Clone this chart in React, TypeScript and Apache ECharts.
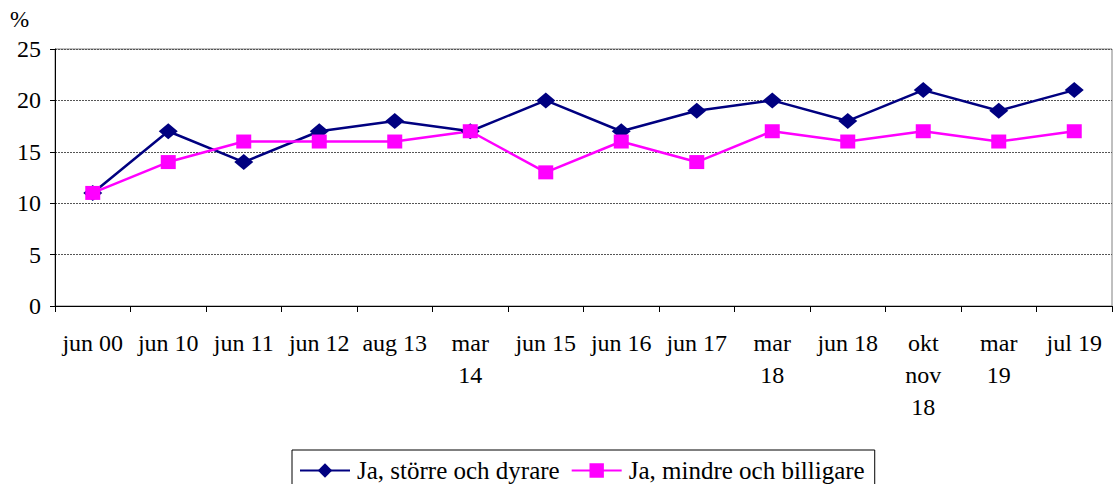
import React, { useEffect, useRef } from "react";
import * as echarts from "echarts";

const categories = [
  "jun 00", "jun 10", "jun 11", "jun 12", "aug 13", "mar\n14", "jun 15",
  "jun 16", "jun 17", "mar\n18", "jun 18", "okt\nnov\n18", "mar\n19", "jul 19",
];
const seriesNames = ["Ja, större och dyrare", "Ja, mindre och billigare"];
const storreValues = [11, 17, 14, 17, 18, 17, 20, 17, 19, 20, 18, 21, 19, 21];
const mindreValues = [11, 14, 16, 16, 16, 17, 13, 16, 14, 17, 16, 17, 16, 17];
const yTicks = [0, 5, 10, 15, 20, 25];

const FONT = "Liberation Serif";

export default function App() {
  const ref = useRef<HTMLDivElement>(null);
  useEffect(() => {
    if (!ref.current) return;
    const chart = echarts.init(ref.current, undefined, { renderer: "svg" });
    chart.setOption({
      animation: false,
      backgroundColor: "#ffffff",
      textStyle: { fontFamily: FONT },
      grid: {
        left: 55, right: 1, top: 49, bottom: 178,
        show: true, borderColor: "#808080", borderWidth: 1,
      },
      graphic: [
        {
          type: "text", left: 10, top: 8,
          style: { text: "%", fontFamily: FONT, fontSize: 23, fill: "#000" },
        },
      ],
      legend: {
        top: 450,
        left: 292,
        itemWidth: 50,
        itemHeight: 18,
        itemGap: 11,
        padding: [8, 10, 8, 7],
        borderColor: "#000",
        borderWidth: 1,
        textStyle: { fontFamily: FONT, fontSize: 25, color: "#000", padding: [0, 0, 0, 2] },
        data: seriesNames,
      },
      xAxis: {
        type: "category",
        data: categories,
        boundaryGap: true,
        axisLine: { lineStyle: { color: "#000", width: 1 } },
        axisTick: { show: true, length: 6, lineStyle: { color: "#000" } },
        axisLabel: {
          interval: 0, margin: 21, fontSize: 24, lineHeight: 32, color: "#000",
          fontFamily: FONT, align: "center",
        },
        splitLine: { show: false },
      },
      yAxis: {
        type: "value",
        min: yTicks[0],
        max: yTicks[yTicks.length - 1],
        interval: 5,
        axisLine: { show: true, lineStyle: { color: "#000", width: 1 } },
        axisTick: { show: true, length: 5, lineStyle: { color: "#000" } },
        axisLabel: { fontSize: 24, color: "#000", fontFamily: FONT, margin: 14 },
        splitLine: { show: true, lineStyle: { color: "#555", type: [2, 1], width: 1 } },
      },
      series: [
        {
          name: seriesNames[0],
          type: "line",
          data: storreValues,
          color: "#000080",
          symbol: "diamond",
          symbolSize: [19, 16],
          lineStyle: { width: 2.5, color: "#000080" },
          itemStyle: { color: "#000080" },
        },
        {
          name: seriesNames[1],
          type: "line",
          data: mindreValues,
          color: "#ff00ff",
          symbol: "rect",
          symbolSize: [15, 14],
          lineStyle: { width: 2.5, color: "#ff00ff" },
          itemStyle: { color: "#ff00ff" },
        },
      ],
    });
    return () => chart.dispose();
  }, []);
  return (
    <div
      ref={ref}
      style={{ position: "fixed", left: 0, top: 0, width: 1113, height: 484, background: "#fff" }}
    />
  );
}
